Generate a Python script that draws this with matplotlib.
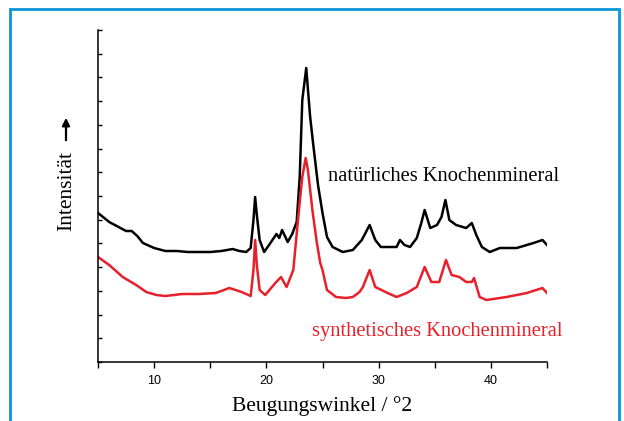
import numpy as np
import matplotlib
matplotlib.use("Agg")
import matplotlib.pyplot as plt
from matplotlib.patches import Rectangle, FancyArrowPatch

# Beugungswinkel (°2θ) und Intensitäten (willkürliche Einheiten)
winkel_nat = [5, 6, 7, 7.5, 8, 8.5, 9, 10, 11, 12, 13, 14, 15, 16, 17, 17.6, 18.2, 18.6,
              18.85, 19.0, 19.15, 19.4, 19.8, 20.3, 20.9, 21.15, 21.4, 21.9, 22.3, 22.7,
              22.97, 23.2, 23.55, 23.9, 24.2, 24.6, 25.0, 25.4, 25.9, 26.8, 27.7, 28.5,
              29.2, 29.7, 30.2, 31.0, 31.6, 31.9, 32.3, 32.8, 33.4, 33.8, 34.1, 34.6,
              35.2, 35.6, 35.95, 36.3, 36.9, 37.8, 38.3, 38.7, 39.2, 39.9, 40.8, 42.3,
              43.8, 44.6, 45]
int_nat = [149, 140, 134, 131, 131, 126, 119, 114, 111, 111, 110, 110, 110, 111, 113, 111,
           110, 114, 142, 165, 147, 122, 110, 118, 128, 124, 132, 120, 128, 140, 185, 262,
           294, 245, 215, 177, 149, 125, 115, 110, 112, 122, 137, 122, 115, 115, 115, 122,
           117, 115, 124, 139, 152, 134, 137, 145, 162, 142, 137, 134, 139, 127, 115, 110,
           114, 114, 119, 122, 117]

winkel_syn = [5, 6, 7.2, 8.4, 9.3, 10.2, 11, 12.5, 14, 15.5, 16.7, 17.8, 18.6, 18.85, 19.0,
              19.15, 19.4, 19.9, 20.8, 21.3, 21.8, 22.4, 22.9, 23.2, 23.5, 23.7, 24.1,
              24.5, 24.8, 25.0, 25.4, 26.2, 27.1, 27.7, 28.3, 28.6, 29.2, 29.7, 30.8,
              31.6, 32.5, 33.4, 34.1, 34.7, 35.4, 36.0, 36.5, 37.2, 37.8, 38.3, 38.5,
              39.0, 39.6, 41.4, 43.2, 44.6, 45]
int_syn = [105, 97, 85, 77, 70, 67, 66, 68, 68, 69, 74, 70, 66, 92, 122, 97, 72, 67, 79,
           85, 75, 92, 152, 185, 204, 192, 152, 119, 99, 92, 72, 65, 64, 65, 70, 75, 92,
           75, 69, 65, 69, 75, 95, 80, 80, 102, 87, 85, 80, 80, 84, 65, 62, 65, 69, 74, 69]

x_ticks = [5, 10, 15, 20, 25, 30, 35, 40, 45]
x_labels = ["", "10", "", "20", "", "30", "", "40", ""]

serif = "Liberation Serif"

fig = plt.figure(figsize=(6.24, 4.21), dpi=100)
ax = fig.add_axes([98 / 624, 1 - 362 / 421, 449 / 624, 332 / 421])

ax.plot(winkel_nat, int_nat, color="black", lw=1.8)
ax.plot(winkel_syn, int_syn, color="#e8202a", lw=1.8)

ax.set_xlim(5, 45)
ax.set_ylim(0, 332)
ax.set_xticks(x_ticks)
ax.set_xticklabels(x_labels, fontfamily="Liberation Sans", fontsize=9)
ax.set_yticks(np.linspace(0, 332, 15))
ax.set_yticklabels([])
ax.tick_params(axis="x", direction="out", length=4, width=1, pad=5)
ax.tick_params(axis="y", direction="in", length=3, width=1)
for s in ["top", "right"]:
    ax.spines[s].set_visible(False)
for s in ["left", "bottom"]:
    ax.spines[s].set_linewidth(1.1)

ax.set_xlabel("Beugungswinkel / °2", fontfamily=serif, fontsize=15.5, labelpad=7)

ax.text(25.45, 181, "natürliches Knochenmineral", fontfamily=serif, fontsize=14.8,
        color="black", va="baseline", ha="left")
ax.text(24.1, 26, "synthetisches Knochenmineral", fontfamily=serif, fontsize=14.8,
        color="#e8202a", va="baseline", ha="left")

# y-Beschriftung mit Pfeil
fig.text(67 / 624, 1 - 191 / 421, "Intensität", rotation=90, fontfamily=serif,
         fontsize=15.5, ha="center", va="center")
fig.patches.append(FancyArrowPatch(
    (66 / 624, 1 - 143 / 421), (66 / 624, 1 - 115 / 421), transform=fig.transFigure,
    arrowstyle="-|>", mutation_scale=11, lw=1.6, color="black"))

# blauer Rahmen
fig.patches.append(Rectangle((10 / 624, -0.05), 609 / 624, 1.05 - 9 / 421,
                             transform=fig.transFigure, fill=False,
                             edgecolor="#0a96d9", lw=2))

fig.savefig("out.png", dpi=100)
